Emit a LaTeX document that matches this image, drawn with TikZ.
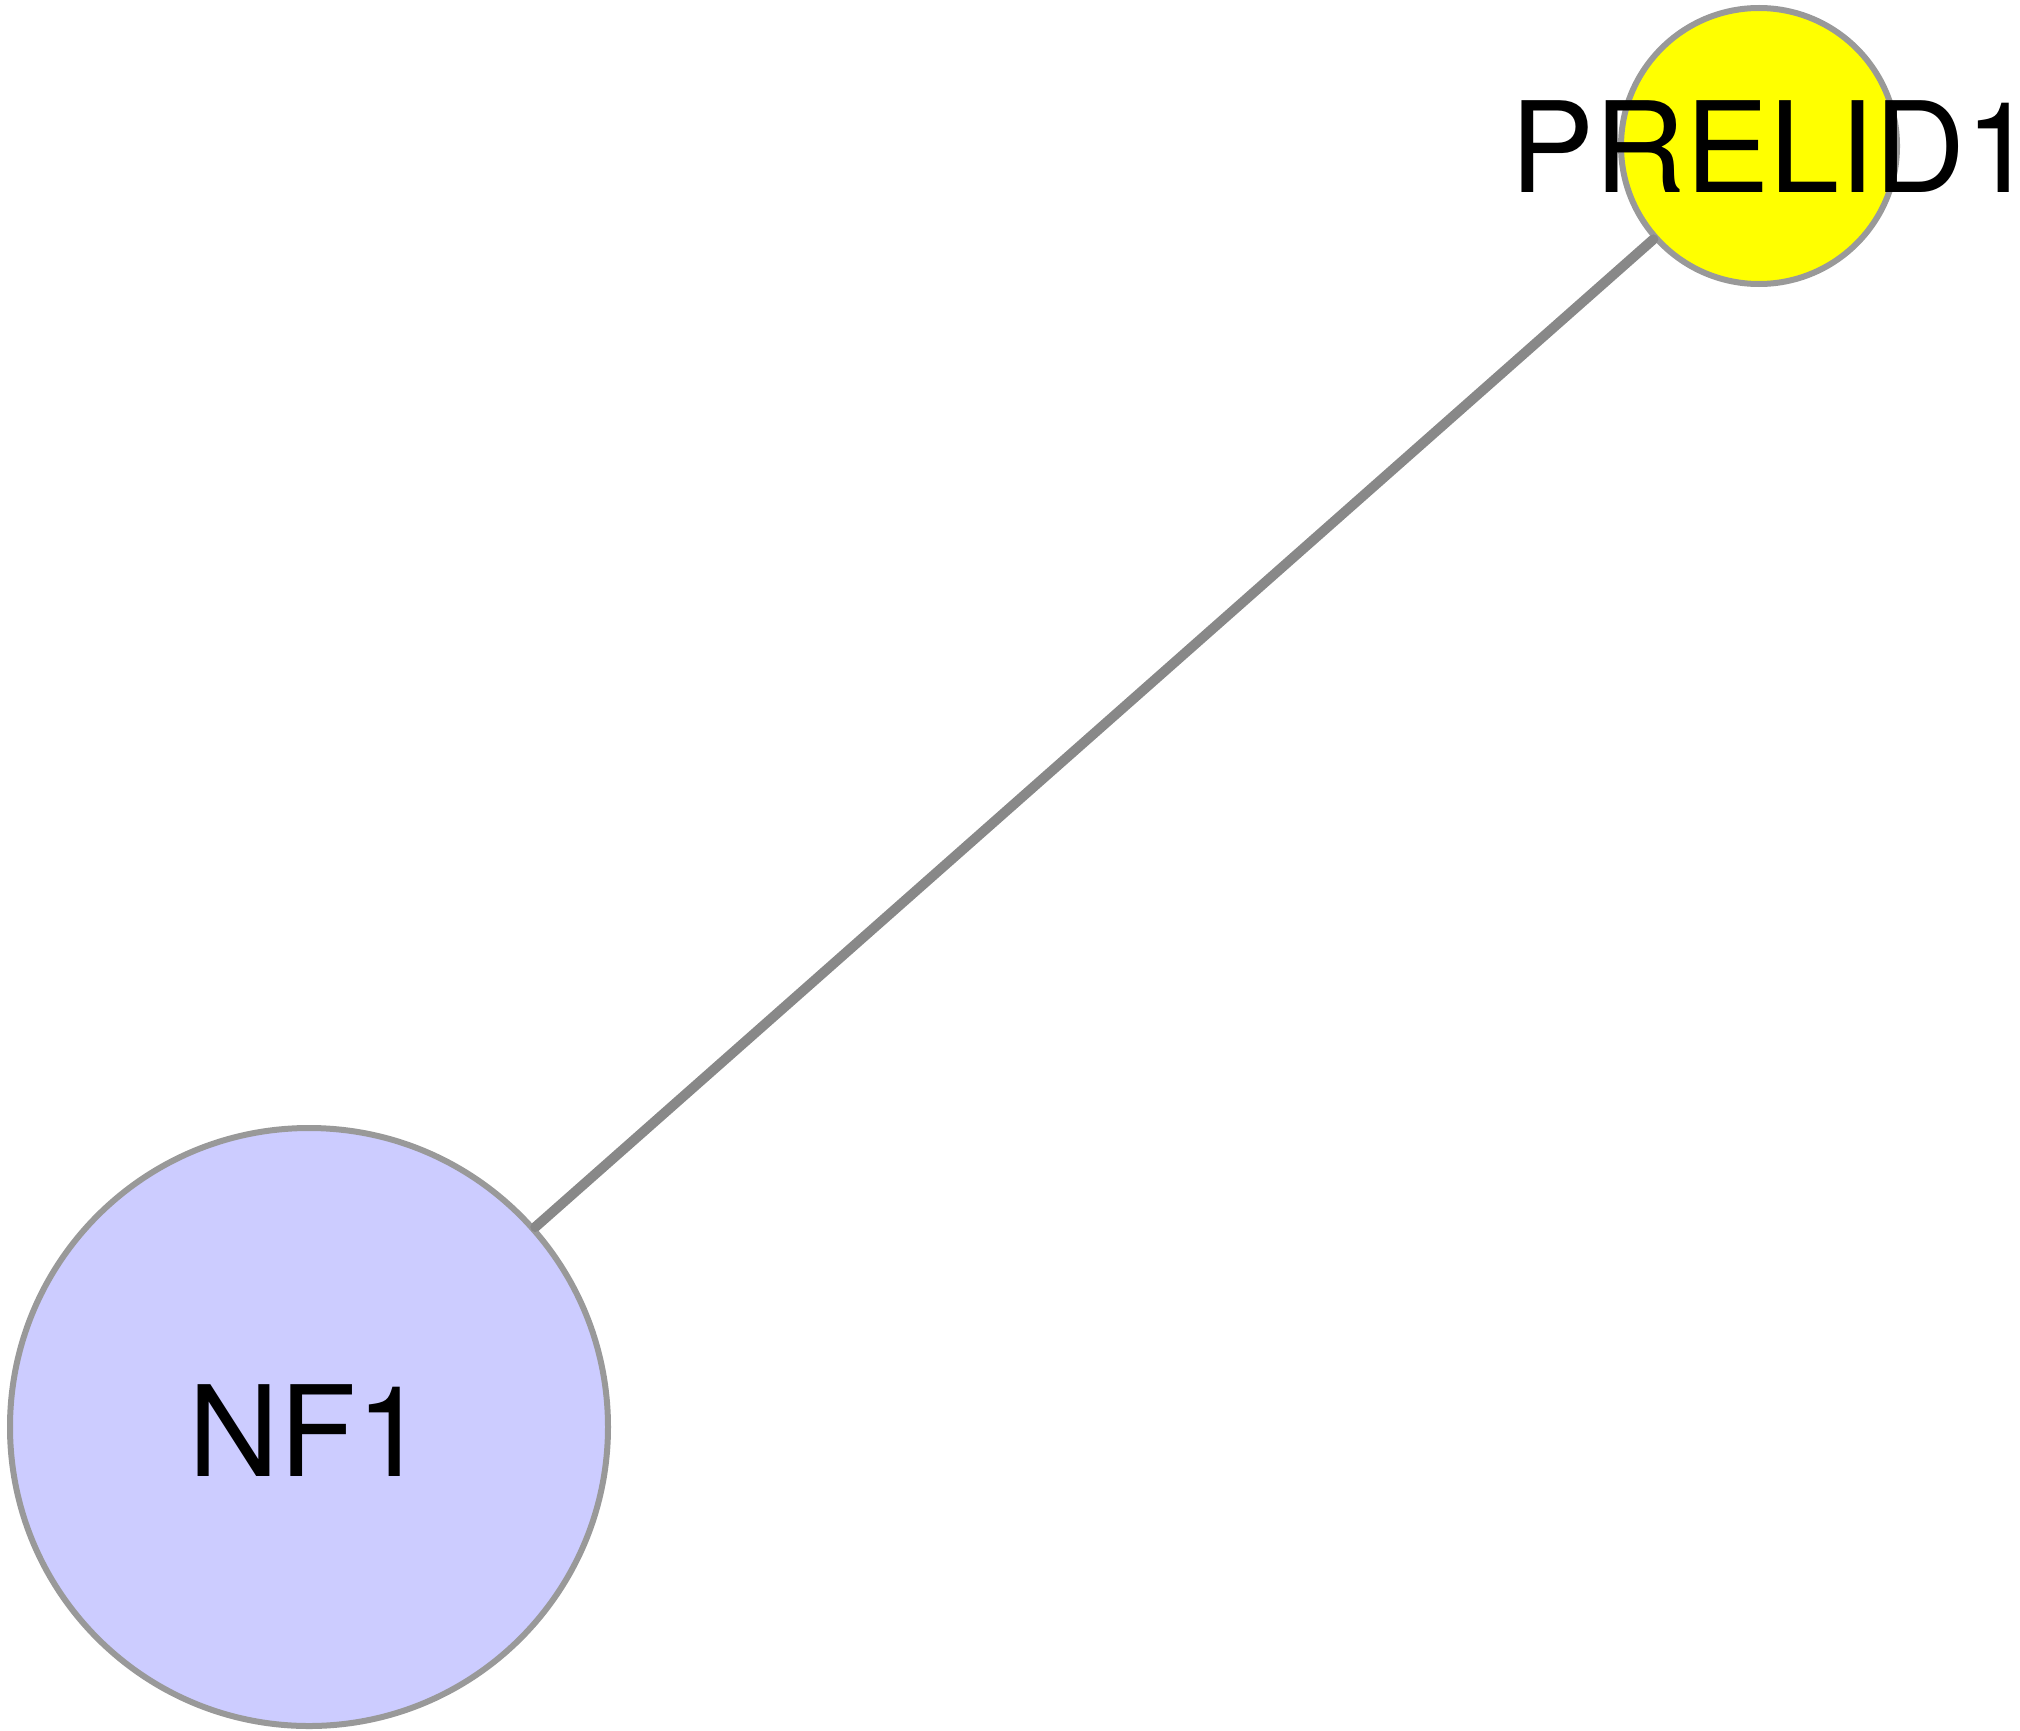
\documentclass[tikz,border=0pt]{standalone}
\usepackage{fontspec}
\setmainfont{TeX Gyre Heros}
\newfontfamily\labelfont{TeX Gyre Heros}
\definecolor{nodeborder}{HTML}{999999}
\definecolor{edgegray}{HTML}{888888}
\definecolor{lavender}{HTML}{CCCCFF}
\definecolor{brightyellow}{HTML}{FFFF00}
\begin{document}
\begin{tikzpicture}[x=1pt,y=1pt,
  genenode/.style={circle,draw=nodeborder,line width=6pt,inner sep=0pt},
  genelabel/.style={inner sep=0pt,anchor=base west,font=\labelfont\fontsize{126}{127}\selectfont},
  edgeline/.style={draw=edgegray,line width=10pt,line cap=round}]
\useasboundingbox (0,0) rectangle (2020,-1731);
\node[genenode,fill=lavender,minimum size=598pt] (nf1) at (309,-1427) {};
\node[genenode,fill=brightyellow,minimum size=276pt] (prelid1) at (1759,-146) {};
\draw[edgeline] (nf1) -- (prelid1);
\node[genelabel] (nf1label) at (188,-1476) {NF1};
\node[genelabel] (prelid1label) at (1510,-193) {PRELID1};
\end{tikzpicture}
\end{document}
